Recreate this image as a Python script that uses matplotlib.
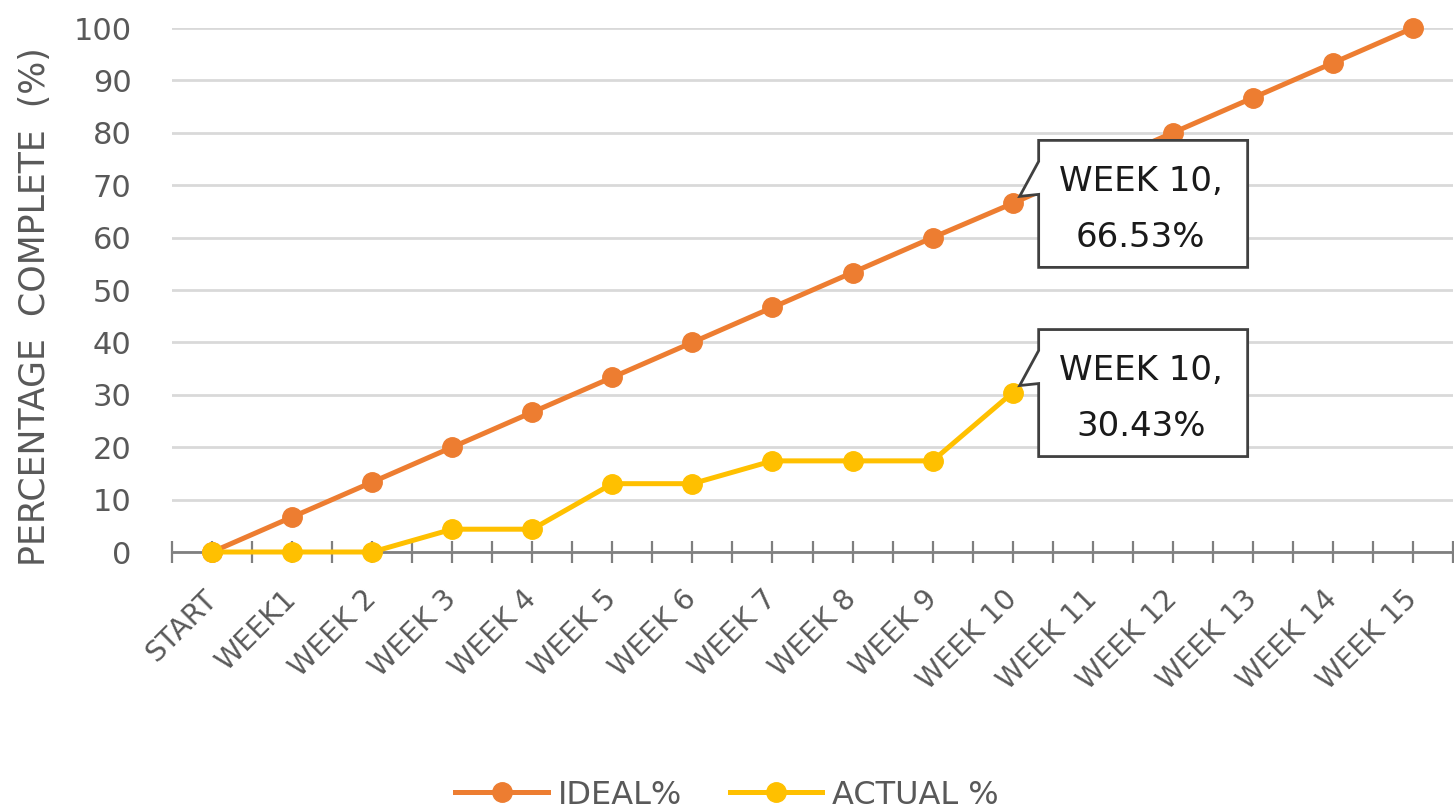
import matplotlib
matplotlib.use("Agg")
import matplotlib.pyplot as plt
from matplotlib.patches import Polygon
from matplotlib.transforms import ScaledTranslation

categories = ["START", "WEEK1", "WEEK 2", "WEEK 3", "WEEK 4", "WEEK 5", "WEEK 6", "WEEK 7",
              "WEEK 8", "WEEK 9", "WEEK 10", "WEEK 11", "WEEK 12", "WEEK 13", "WEEK 14", "WEEK 15"]
ideal = [0, 6.67, 13.33, 20, 26.67, 33.33, 40, 46.67, 53.33, 60, 66.53, 73.33, 80, 86.67, 93.33, 100]
actual = [0, 0, 0, 4.35, 4.35, 13.04, 13.04, 17.39, 17.39, 17.39, 30.43]
y_ticks = [0, 10, 20, 30, 40, 50, 60, 70, 80, 90, 100]
callout_index = 10

ORANGE = "#ED7D31"
GOLD = "#FFC000"
TXT = "#595959"

plt.rcParams['font.family'] = ['DejaVu Sans']

fig = plt.figure(figsize=(14.54, 8.11), dpi=100)
ax = fig.add_axes([172/1454, 1-552/811, (1453-172)/1454, (552-28)/811])

x_ideal = list(range(len(ideal)))
x_actual = list(range(len(actual)))

ax.plot(x_ideal, ideal, color=ORANGE, lw=3.6, marker='o', ms=14, mec=ORANGE, mfc=ORANGE,
        label="IDEAL%", zorder=4, clip_on=False)
ax.plot(x_actual, actual, color=GOLD, lw=3.6, marker='o', ms=14, mec=GOLD, mfc=GOLD,
        label="ACTUAL %", zorder=5, clip_on=False)

ax.set_xlim(-0.5, len(categories) - 0.5)
ax.set_ylim(0, 100)
ax.set_yticks(y_ticks)
ax.set_yticklabels([str(v) for v in y_ticks])
ax.yaxis.grid(True, color="#D9D9D9", lw=2)
ax.set_axisbelow(True)
for s in ["top", "right", "left"]:
    ax.spines[s].set_visible(False)
ax.spines["bottom"].set_color("#7F7F7F")
ax.spines["bottom"].set_linewidth(2)
ax.spines["bottom"].set_zorder(3)

ax.set_xticks(range(len(categories)))
ax.set_xticklabels(categories, rotation=45, ha='right', va='center', rotation_mode='anchor')
ax.set_xticks([i - 0.5 for i in range(len(categories) + 1)], minor=True)
ax.tick_params(axis='x', which='both', direction='inout', length=16, width=1.6, color="#7F7F7F",
               labelsize=20.5, labelcolor=TXT, pad=23)
ax.tick_params(axis='y', length=0, pad=29, labelsize=22, labelcolor=TXT)

fig.text(35/1454, 1-307/811, "PERCENTAGE  COMPLETE  (%)", rotation=90, ha='center', va='center',
         fontsize=25, color=TXT)

# callouts
def callout(xv, yv, text):
    tr = fig.dpi_scale_trans + ScaledTranslation(xv, yv, ax.transData)
    px = lambda a, b: (a / 100.0, -b / 100.0)
    verts = [px(26, -63), px(235, -63), px(235, 64), px(26, 64), px(26, -9), px(7, -7), px(26, -42)]
    poly = Polygon(verts, closed=True, transform=tr, facecolor="white", edgecolor="#404040",
                   lw=2, zorder=6, clip_on=False)
    ax.add_patch(poly)
    ax.text(1.28, -0.06, text, transform=tr, ha='center', va='center', fontsize=24.5,
            color="#1A1A1A", zorder=7, linespacing=1.9)

callout(callout_index, ideal[callout_index], f"{categories[callout_index]},\n{ideal[callout_index]:.2f}%")
callout(callout_index, actual[callout_index], f"{categories[callout_index]},\n{actual[callout_index]:.2f}%")

fig.legend(loc='center', bbox_to_anchor=(0.5, 1-795/811), ncol=2, frameon=False, fontsize=23,
           handlelength=2.9, handletextpad=0.3, columnspacing=1.5, labelcolor=TXT)

fig.savefig("out.png", dpi=100)
